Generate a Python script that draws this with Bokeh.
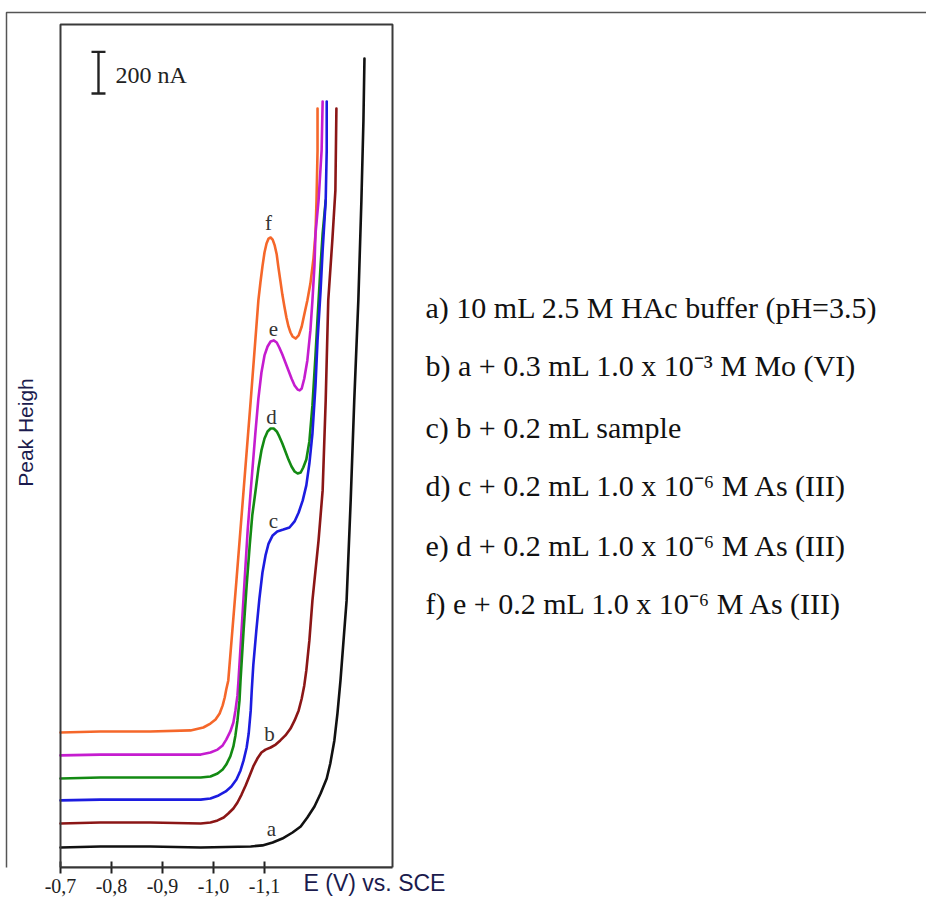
import math
from bokeh.plotting import figure
from bokeh.models import Range1d, FixedTicker, Label, BoxAnnotation, LinearAxis
from bokeh.embed import file_html
from bokeh.resources import INLINE

# ---------------- data ----------------
tick_values = [-0.7, -0.8, -0.9, -1.0, -1.1]
tick_labels = ["-0,7", "-0,8", "-0,9", "-1,0", "-1,1"]
x_title = "E (V) vs. SCE"
y_title = "Peak Heigh"

# potential E (V vs. SCE) and current (nA, arbitrary offset)
a_E = [-0.700, -0.778, -0.876, -0.975, -1.073, -1.096, -1.116, -1.135, -1.155, -1.171, -1.184, -1.198, -1.210,
       -1.222, -1.229, -1.237, -1.243, -1.249, -1.255, -1.261, -1.269, -1.276, -1.284, -1.290, -1.294, -1.296]
a_I = [96, 101, 101, 96, 101, 106, 120, 139, 168, 197, 240, 293, 355,
       427, 499, 610, 739, 898, 1090, 1282, 1762, 2242, 2722, 3202, 3586, 3883]

b_E = [-0.700, -0.778, -0.876, -0.975, -0.994, -1.008, -1.020, -1.029, -1.039, -1.047, -1.055, -1.063, -1.071,
       -1.078, -1.086, -1.094, -1.102, -1.112, -1.122, -1.131, -1.141, -1.151, -1.159, -1.167, -1.173, -1.178,
       -1.182, -1.188, -1.194, -1.200, -1.206, -1.210, -1.214, -1.220, -1.225, -1.233, -1.239, -1.241]
b_I = [211, 216, 216, 211, 216, 226, 240, 259, 283, 312, 350, 394, 442,
       485, 523, 552, 566, 576, 590, 610, 634, 667, 706, 754, 811, 874,
       946, 1090, 1282, 1426, 1570, 1690, 1810, 2242, 2722, 3010, 3250, 3643]

c_E = [-0.700, -0.778, -0.876, -0.975, -0.994, -1.010, -1.024, -1.035, -1.045, -1.053, -1.059, -1.065, -1.069,
       -1.073, -1.075, -1.078, -1.084, -1.090, -1.096, -1.102, -1.108, -1.116, -1.125, -1.137, -1.149, -1.159,
       -1.167, -1.175, -1.182, -1.188, -1.194, -1.200, -1.204, -1.210, -1.214, -1.220, -1.222, -1.222]
c_I = [322, 326, 326, 326, 331, 346, 365, 389, 422, 466, 514, 576, 643,
       754, 850, 970, 1138, 1291, 1416, 1498, 1555, 1594, 1613, 1622, 1632, 1661,
       1704, 1762, 1834, 1939, 2083, 2314, 2530, 2770, 2962, 3202, 3442, 3677]

d_E = [-0.700, -0.778, -0.876, -0.975, -0.994, -1.008, -1.018, -1.025, -1.033, -1.039, -1.043, -1.047, -1.051,
       -1.053, -1.059, -1.065, -1.071, -1.076, -1.082, -1.088, -1.094, -1.100, -1.106, -1.112, -1.118, -1.124,
       -1.129, -1.135, -1.141, -1.147, -1.153, -1.159, -1.165, -1.171, -1.176, -1.182, -1.188, -1.194, -1.200,
       -1.204, -1.210, -1.214, -1.220]
d_I = [427, 432, 432, 432, 437, 451, 470, 494, 533, 581, 634, 706, 802,
       898, 1138, 1354, 1546, 1690, 1800, 1915, 2002, 2059, 2093, 2107, 2107, 2093,
       2069, 2035, 1997, 1958, 1925, 1901, 1891, 1896, 1920, 1958, 2045, 2218, 2458,
       2635, 2890, 3043, 3202]

e_E = [-0.700, -0.778, -0.876, -0.975, -0.994, -1.008, -1.018, -1.025, -1.033, -1.039, -1.043, -1.047, -1.049,
       -1.055, -1.061, -1.067, -1.073, -1.082, -1.088, -1.094, -1.100, -1.106, -1.112, -1.118, -1.124, -1.129,
       -1.135, -1.141, -1.147, -1.153, -1.159, -1.165, -1.169, -1.173, -1.178, -1.184, -1.190, -1.194, -1.198,
       -1.200, -1.206, -1.212, -1.214]
e_I = [538, 542, 542, 542, 552, 566, 586, 614, 653, 696, 754, 826, 898,
       1138, 1378, 1618, 1810, 2083, 2251, 2376, 2458, 2501, 2525, 2530, 2520, 2496,
       2462, 2424, 2386, 2347, 2314, 2294, 2290, 2299, 2347, 2434, 2578, 2722, 2890,
       3043, 3202, 3442, 3677]

f_E = [-0.700, -0.778, -0.876, -0.955, -0.980, -0.994, -1.004, -1.012, -1.018, -1.022, -1.025, -1.029, -1.045,
       -1.059, -1.073, -1.088, -1.092, -1.096, -1.100, -1.104, -1.108, -1.112, -1.116, -1.120, -1.124, -1.127,
       -1.131, -1.135, -1.139, -1.143, -1.147, -1.151, -1.155, -1.161, -1.167, -1.173, -1.178, -1.184, -1.190,
       -1.196, -1.200, -1.202, -1.204, -1.204]
f_I = [648, 653, 653, 658, 672, 691, 710, 739, 778, 816, 854, 898, 1378,
       1810, 2242, 2722, 2808, 2885, 2952, 2995, 3019, 3024, 3014, 2986, 2942, 2885,
       2818, 2750, 2693, 2640, 2597, 2568, 2549, 2539, 2554, 2597, 2654, 2722, 2803,
       2923, 3043, 3202, 3442, 3643]

curve_names = ["a", "b", "c", "d", "e", "f"]
legend_texts = [
    "a) 10 mL  2.5 M HAc buffer (pH=3.5)",
    "b) a + 0.3 mL 1.0 x 10\u207b\u00b3 M Mo (VI)",
    "c) b + 0.2 mL sample",
    "d) c + 0.2 mL 1.0 x 10\u207b\u2076 M As (III)",
    "e) d + 0.2 mL 1.0 x 10\u207b\u2076 M As (III)",
    "f) e + 0.2 mL 1.0 x 10\u207b\u2076 M As (III)",
]
scale_bar_nA = 200

# ---------------- layout / styling ----------------
colors = {"a": "#111111", "b": "#8b1616", "c": "#1c1ce0", "d": "#138a13", "e": "#c51ccf", "f": "#f5672a"}
SERIF = "Liberation Serif"
SANS = "Liberation Sans"
NAVY = "#1b1b4d"

E_PLOT_END = -1.351      # right edge of the inner box
E_TITLE_POS = -1.3157    # where the axis title sits on the axis row
I_BOX_TOP = 4046         # top of the inner box

p = figure(width=926, height=901,
           x_range=Range1d(-0.582353, -2.398039), y_range=Range1d(0, 4161.6),
           output_backend="svg", toolbar_location=None, y_axis_location=None,
           min_border_left=0, min_border_right=0, min_border_top=0, min_border_bottom=34)
p.grid.visible = False
p.outline_line_color = None
p.background_fill_color = "white"
p.border_fill_color = "white"

ax = p.xaxis[0]
ax.bounds = (E_PLOT_END, -0.7)
ax.ticker = FixedTicker(ticks=tick_values)
ax.major_label_overrides = {v: s for v, s in zip(tick_values, tick_labels)}
ax.major_tick_in = 6
ax.major_tick_out = 6
ax.minor_tick_line_color = None
ax.axis_line_color = "#333333"
ax.axis_line_width = 2
ax.major_tick_line_color = "#222222"
ax.major_tick_line_width = 2
ax.major_label_text_font = SERIF
ax.major_label_text_font_size = "20px"
ax.major_label_text_color = "#222222"
ax.major_label_standoff = 5

# second row axis carrying the axis title beside the tick labels
title_axis = LinearAxis(ticker=FixedTicker(ticks=[E_TITLE_POS]),
                        major_label_overrides={E_TITLE_POS: x_title},
                        axis_line_color=None, major_tick_line_color=None, minor_tick_line_color=None,
                        major_tick_in=0, major_tick_out=0, major_label_standoff=-26,
                        major_label_text_font=SANS, major_label_text_font_size="23px",
                        major_label_text_color=NAVY)
p.add_layout(title_axis, "below")

# inner box
p.add_layout(BoxAnnotation(left=-0.7, right=E_PLOT_END, bottom=0, top=I_BOX_TOP,
                           fill_color=None, fill_alpha=0, line_color="#3a3a3a", line_alpha=1.0, line_width=2))
# outer frame (top + left rule)
p.add_layout(BoxAnnotation(left=6, right=2000, top=855, bottom=-200,
                           left_units="screen", right_units="screen", top_units="screen", bottom_units="screen",
                           fill_color=None, fill_alpha=0, line_color="#555555", line_alpha=1.0, line_width=1.5))

series = {"a": (a_E, a_I), "b": (b_E, b_I), "c": (c_E, c_I), "d": (d_E, d_I), "e": (e_E, e_I), "f": (f_E, f_I)}
for name in ["a", "b", "f", "e", "d", "c"]:
    E, I = series[name]
    p.line(E, I, line_color=colors[name], line_width=2.6, line_join="round", line_cap="round")

# scale bar (200 nA)
sb_x = -0.7745
sb_y0 = 3715
cap = 0.0137
p.segment(x0=[sb_x, sb_x - cap, sb_x - cap], y0=[sb_y0, sb_y0, sb_y0 + scale_bar_nA],
          x1=[sb_x, sb_x + cap, sb_x + cap], y1=[sb_y0 + scale_bar_nA, sb_y0, sb_y0 + scale_bar_nA],
          line_color="#222222", line_width=2.4)
p.add_layout(Label(x=115, y=793, x_units="screen", y_units="screen", text=f"{scale_bar_nA} nA",
                   text_font=SERIF, text_font_size="24px", text_color="#222222",
                   text_align="left", text_baseline="middle"))

# curve letters
letter_pos = {"a": (271, 39), "b": (269, 134), "c": (273, 347), "d": (271, 451), "e": (273, 539), "f": (268, 645)}
for name in curve_names:
    lx, ly = letter_pos[name]
    p.add_layout(Label(x=lx, y=ly, x_units="screen", y_units="screen", text=name,
                       text_font=SERIF, text_font_size="21px", text_color="#333333",
                       text_align="center", text_baseline="middle"))

# legend texts
legend_y = [560, 502, 440, 382, 322, 264]
for t, ly in zip(legend_texts, legend_y):
    p.add_layout(Label(x=425, y=ly, x_units="screen", y_units="screen", text=t,
                       text_font=SERIF, text_font_size="30px", text_color="#111111",
                       text_align="left", text_baseline="middle"))

# y title
p.add_layout(Label(x=25, y=435, x_units="screen", y_units="screen", text=y_title,
                   angle=math.pi / 2, text_font=SANS, text_font_size="21px", text_color=NAVY,
                   text_align="center", text_baseline="middle"))

open("out.html", "w").write(file_html(p, INLINE))
